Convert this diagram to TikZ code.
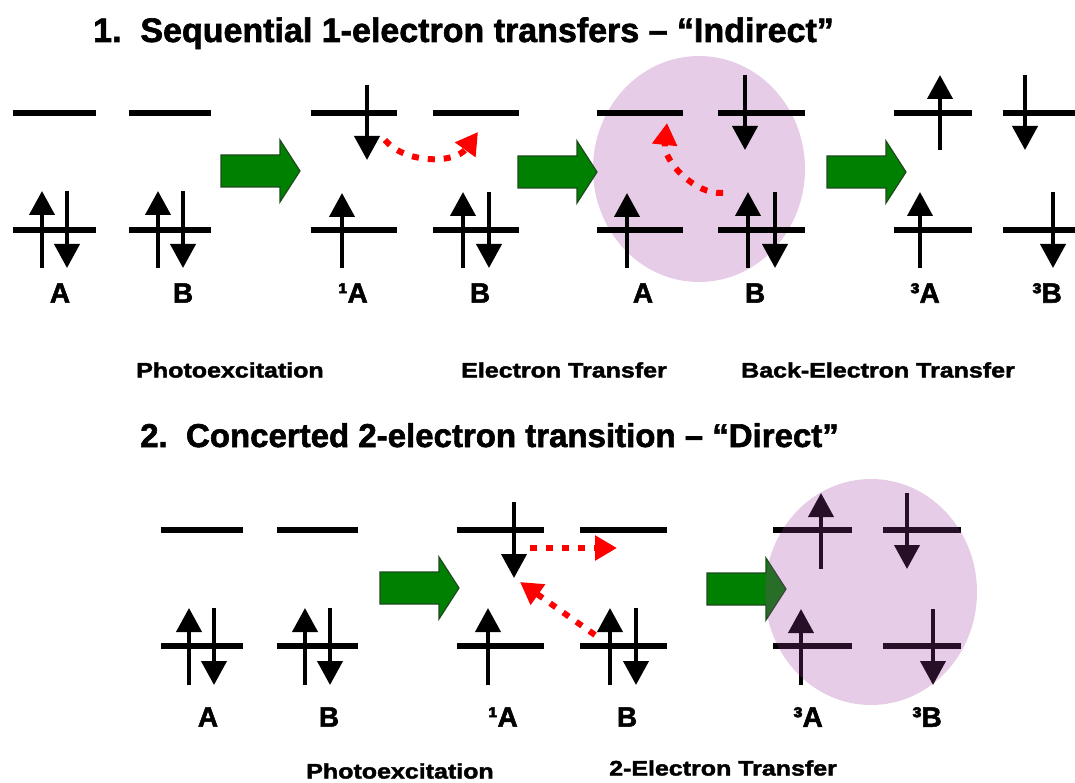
\documentclass[tikz,border=0pt]{standalone}
\usepackage{fontspec}
\setmainfont{Liberation Sans}[BoldFeatures={FakeBold=1.8}]
\usetikzlibrary{arrows.meta}

\definecolor{pushgreen}{HTML}{008000}
\definecolor{pushedge}{HTML}{1E4A1E}
\definecolor{bubble}{HTML}{9E3B9E}
\definecolor{hopred}{HTML}{FF0000}

\tikzset{
  x=1pt, y=-1pt,
  orbital/.style={line width=6.5pt},
  spin/.style={line width=4pt, -{Triangle[width=25pt,length=24pt]}},
  hop/.style={draw=hopred, line width=6pt, dash pattern=on 7pt off 9pt,
              -{Triangle[width=24pt,length=22pt]}},
  heading/.style={font=\fontsize{34}{40}\selectfont\bfseries, anchor=base west, inner sep=0pt},
  species/.style={font=\fontsize{28}{32}\selectfont\bfseries, inner sep=0pt},
  stage/.style={font=\fontsize{21}{24}\selectfont\bfseries, inner sep=0pt},
  pairbubble/.style={fill=bubble, fill opacity=0.26, draw=none},
  pics/push/.style={code={
    \draw[fill=pushgreen, draw=pushedge, line width=1.2pt, line join=miter]
      (0,-16) -- (59,-16) -- (59,-31) -- (79,0) -- (59,31) -- (59,16) -- (0,16) -- cycle;
  }},
}

\begin{document}
\begin{tikzpicture}
\useasboundingbox (0,0) rectangle (1075,783);

% ---------- 1. Sequential one-electron transfers ----------
\node[heading] (head1) at (93,42) {1.\ \ Sequential 1-electron transfers – “Indirect”};

% encounter pair after electron transfer (behind the levels)
\fill[pairbubble] (699,169) ellipse [x radius=106, y radius=113];

% levels
\foreach \a/\b in {13/96,129/211,311/397,433/519,597/683,718/805,894/972,1003/1075}{
  \draw[orbital] (\a,113) -- (\b,113);
  \draw[orbital] (\a,230) -- (\b,230);
}

% ground state pair A, B
\draw[spin] (42,268) -- (42,191);
\draw[spin] (67,191) -- (67,268);
\draw[spin] (158,268) -- (158,191);
\draw[spin] (183,191) -- (183,268);

% singlet A, B
\draw[spin] (367,85) -- (367,160);
\draw[spin] (342,268) -- (342,193);
\draw[spin] (463,268) -- (463,192);
\draw[spin] (489,192) -- (489,268);

% after electron transfer
\draw[spin] (627,268) -- (627,193);
\draw[spin] (745,75) -- (745,150);
\draw[spin] (748,268) -- (748,192);
\draw[spin] (775,192) -- (775,268);

% triplet A, triplet B
\draw[spin] (940,150) -- (940,75);
\draw[spin] (920,268) -- (920,192);
\draw[spin] (1025,75) -- (1025,150);
\draw[spin] (1053,192) -- (1053,268);

% species labels
\node[species] (a1)  at (60,293)   {A};
\node[species] (b1)  at (183,293)  {B};
\node[species] (sa1) at (353,293)  {¹A};
\node[species] (b2)  at (480,293)  {B};
\node[species] (a3)  at (643,293)  {A};
\node[species] (b3)  at (755,293)  {B};
\node[species] (ta1) at (925,293)  {³A};
\node[species] (tb1) at (1047,293) {³B};

% process arrows
\pic at (221,171) {push};
\pic at (518,172) {push};
\pic at (827,172) {push};

% electron hops
\coordinate (e1s) at (385,140);
\coordinate (e1t) at (478,132);
\coordinate (e2s) at (723,193);
\coordinate (e2t) at (667,123);
\draw[hop] (e1s) .. controls (405,164) and (455,164) .. (e1t);
\draw[hop] (e2s) .. controls (695,195) and (663,161) .. (e2t);

% stage captions
\node[stage] (st1) at (230,370) {\scalebox{1.19}[1]{Photoexcitation}};
\node[stage] (st2) at (564,370) {\scalebox{1.19}[1]{Electron Transfer}};
\node[stage] (st3) at (878,370) {\scalebox{1.19}[1]{Back-Electron Transfer}};

% ---------- 2. Concerted two-electron transition ----------
\node[heading, font=\fontsize{33}{40}\selectfont\bfseries] (head2) at (140,447)
  {2.\ \ Concerted 2-electron transition – “Direct”};

\foreach \a/\b in {161/243,277/358,457/544,580/667,773/852,883/961}{
  \draw[orbital] (\a,530) -- (\b,530);
  \draw[orbital] (\a,646) -- (\b,646);
}

% ground state pair
\draw[spin] (189,685) -- (189,608);
\draw[spin] (214,608) -- (214,685);
\draw[spin] (305,685) -- (305,608);
\draw[spin] (330,608) -- (330,685);

% singlet A, B
\draw[spin] (514,502) -- (514,578);
\draw[spin] (488,685) -- (488,608);
\draw[spin] (610,685) -- (610,608);
\draw[spin] (636,608) -- (636,685);

% triplet pair
\draw[spin] (821,569) -- (821,493);
\draw[spin] (801,685) -- (801,609);
\draw[spin] (907,493) -- (907,569);
\draw[spin] (933,609) -- (933,685);

\node[species] (a4)  at (208,717) {A};
\node[species] (b4)  at (329,717) {B};
\node[species] (sa2) at (503,717) {¹A};
\node[species] (b5)  at (627,717) {B};
\node[species] (ta2) at (808,717) {³A};
\node[species] (tb2) at (927,717) {³B};

\pic at (380,588) {push};
\pic at (707,589) {push};

\coordinate (h1s) at (530,548);
\coordinate (h1t) at (617,548);
\coordinate (h2s) at (595,635);
\coordinate (h2t) at (520,582);
\draw[hop] (h1s) -- (h1t);
\draw[hop] (h2s) -- (h2t);

\node[stage] (st4) at (400,771) {\scalebox{1.19}[1]{Photoexcitation}};
\node[stage] (st5) at (723,768) {\scalebox{1.19}[1]{2-Electron Transfer}};

% triplet pair, tinted over the levels
\fill[pairbubble] (871,592) ellipse [x radius=106, y radius=113];
\end{tikzpicture}
\end{document}
